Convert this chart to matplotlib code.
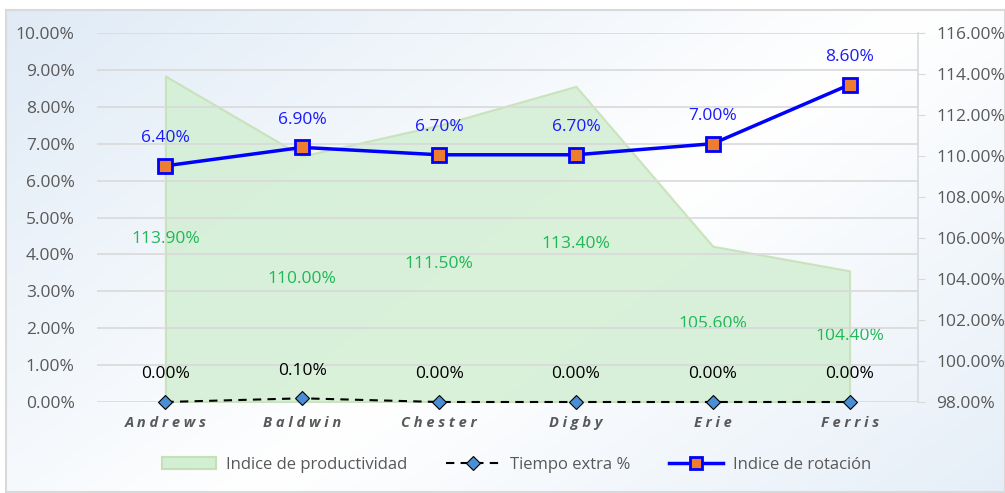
import numpy as np
import matplotlib
matplotlib.use("Agg")
import matplotlib.pyplot as plt
from matplotlib.lines import Line2D
from matplotlib.patches import Patch

categories = ["Andrews", "Baldwin", "Chester", "Digby", "Erie", "Ferris"]
productividad = [113.9, 110.0, 111.5, 113.4, 105.6, 104.4]
tiempo_extra = [0.0, 0.1, 0.0, 0.0, 0.0, 0.0]
rotacion = [6.4, 6.9, 6.7, 6.7, 7.0, 8.6]
left_ticks = list(range(0, 11))
right_ticks = list(range(98, 117, 2))

plt.rcParams['font.family'] = ['Open Sans', 'DejaVu Sans']

W, H = 1005, 493
fig = plt.figure(figsize=(W / 100, H / 100), dpi=100)
fig.patch.set_facecolor('white')

# gradient background of the chart box
bg = fig.add_axes([6 / W, 1 - 492 / H, 1 - 6 / W, 482 / H])
yy, xx = np.mgrid[0:1:200j, 0:1:400j]
t = np.clip(np.abs((xx * 0.6 + (1 - yy) * 0.4) - 0.55) * 1.6, 0, 1)
c0 = np.array([1.0, 1.0, 1.0])
c1 = np.array([0.86, 0.91, 0.96])
img = c0[None, None, :] * (1 - t[..., None]) + c1[None, None, :] * t[..., None]
bg.imshow(img, aspect='auto', extent=[0, 1, 0, 1], origin='lower')
bg.set_xticks([]); bg.set_yticks([])
for s in bg.spines.values():
    s.set_color('#d9d9d9'); s.set_linewidth(1.5)

L, R, T, B = 97, 918, 33, 402
ax = fig.add_axes([L / W, 1 - B / H, (R - L) / W, (B - T) / H])
ax2 = ax.twinx()
ax.set_zorder(ax2.get_zorder() + 1)
ax.patch.set_visible(False)
ax2.patch.set_visible(False)

x = np.arange(len(categories))
gray = '#595959'
fs = 12.5

# area on right axis
ax2.fill_between(x, productividad, 98, facecolor='#d3efd3', alpha=0.85,
                 edgecolor='#c5e0b4', linewidth=1.5, zorder=1)
ax2.set_ylim(98, 116)
ax2.set_yticks(right_ticks)
ax2.set_yticklabels([f"{v:.2f}%" for v in right_ticks], color=gray, fontsize=fs)
for v, xi in zip(productividad, x):
    ax2.text(xi, (v + 98) / 2, f"{v:.2f}%", color='#20b858', fontsize=fs,
             ha='center', va='center', zorder=3)
for k in ['top', 'left', 'bottom']:
    ax2.spines[k].set_visible(False)
ax2.spines['right'].set_color('#d9d9d9')
ax2.spines['right'].set_linewidth(1.2)
ax2.tick_params(axis='y', direction='out', length=5, color='#d9d9d9', pad=8)

# left axis
ax.set_xlim(-0.5, len(categories) - 0.5)
ax.set_ylim(0, 10)
ax.set_yticks(left_ticks)
ax.set_yticklabels([f"{v:.2f}%" for v in left_ticks], color=gray, fontsize=fs)
ax.tick_params(axis='y', length=0, pad=16)
ax.grid(axis='y', color='#d9d9d9', linewidth=1.2)
ax.set_axisbelow(True)
for k in ['top', 'left', 'right', 'bottom']:
    ax.spines[k].set_visible(False)
ax.set_xticks(x)
ax.set_xticklabels([" ".join(c) for c in categories], fontsize=10.5,
                   fontweight='bold', style='italic', color=gray)
ax.tick_params(axis='x', length=0, pad=10)

ax.plot(x, tiempo_extra, color='black', linestyle=(0, (4, 3)), linewidth=1.5,
        marker='D', markersize=7, markerfacecolor='#4a8fd6',
        markeredgecolor='black', markeredgewidth=0.8, zorder=5, clip_on=False)
for xi, v in zip(x, tiempo_extra):
    ax.text(xi, v + 0.75, f"{v:.2f}%", color='black', fontsize=fs,
            ha='center', va='center', zorder=6)

ax.plot(x, rotacion, color='#0000ff', linewidth=2.5, marker='s', markersize=10,
        markerfacecolor='#ed7d31', markeredgecolor='#0000ff',
        markeredgewidth=2, zorder=7)
for xi, v in zip(x, rotacion):
    ax.text(xi, v + 0.75, f"{v:.2f}%", color='#1a1aff', fontsize=fs,
            ha='center', va='center', zorder=8)

handles = [
    Patch(facecolor='#d3efd3', edgecolor='#c5e0b4', linewidth=1.5),
    Line2D([0], [0], color='black', linestyle=(0, (4, 3)), linewidth=1.5,
           marker='D', markersize=7, markerfacecolor='#4a8fd6',
           markeredgecolor='black', markeredgewidth=0.8),
    Line2D([0], [0], color='#0000ff', linewidth=2.5, marker='s', markersize=8,
           markerfacecolor='#ed7d31', markeredgecolor='#0000ff',
           markeredgewidth=2),
]
labels = ["Indice de productividad", "Tiempo extra %", "Indice de rotación"]
fig.legend(handles, labels, loc='center', bbox_to_anchor=(0.514, 1 - 465 / H),
           ncol=3, frameon=False, fontsize=12, labelcolor=gray,
           handlelength=3.25, columnspacing=2.3, handletextpad=0.6)

fig.savefig('out.png', dpi=100)
